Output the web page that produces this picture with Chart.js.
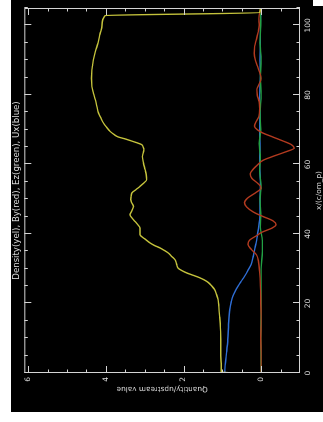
<!DOCTYPE html>
<html>
<head>
<meta charset="utf-8">
<script src="https://cdn.jsdelivr.net/npm/chart.js@4.4.1/dist/chart.umd.min.js"></script>
<style>
  html, body { margin: 0; padding: 0; background: #fff; }
  body { width: 323px; height: 422px; overflow: hidden; position: relative; }
  /* plot is laid out upright, then turned a quarter turn counter-clockwise */
  #frame { position: absolute; left: 0; top: 0; width: 422px; height: 323px;
           transform-origin: 0 0; transform: translateY(422px) rotate(-90deg); background: #fff; }
  #panel { position: absolute; left: 10px; top: 11px; width: 412px; height: 312px; background: #000; }
  #nick { position: absolute; left: 416px; top: 313px; width: 6px; height: 10px; background: #fff; }
</style>
</head>
<body>
<div id="frame">
  <div id="panel"><canvas id="shockChart" width="412" height="312"></canvas></div>
  <div id="nick"></div>
</div>
<script>
// Tick labels
const xTickLabels = [0, 20, 40, 60, 80, 100];
const yTickLabels = [0, 2, 4, 6];

// Density (yellow)
const densX = [0, 0.3, 2, 5, 9.6, 13, 16.3, 19, 21.1, 22.6, 24, 25, 26.1, 26.8, 27.4, 28.1, 28.8, 29.5, 30.2, 31.4,
  32.6, 33.5, 34.5, 35.3, 36, 36.7, 37.4, 38.6, 39.8, 40.8, 41.7, 42.7, 43.6, 44.5, 45.5, 46.7, 47.9, 48.9, 49.9,
  50.8, 51.8, 52.8, 53.7, 54.7, 55.6, 57, 58.5, 60.4, 62.3, 63.3, 64.2, 65, 65.7, 66.3, 66.9, 67.4, 67.9, 68.7,
  69.5, 70.7, 71.9, 73.4, 74.8, 76.7, 78.6, 80.5, 82.4, 84.8, 87.2, 88.7, 90.1, 92.5, 95, 97.5, 100, 102.8, 103.7, 105];
const densVal = [0.73, 1.03, 1.03, 1.04, 1.04, 1.05, 1.07, 1.09, 1.11, 1.15, 1.2, 1.27, 1.37, 1.47, 1.58, 1.75, 1.92, 2.05, 2.14, 2.18,
  2.22, 2.3, 2.39, 2.5, 2.61, 2.75, 2.86, 3.0, 3.12, 3.12, 3.12, 3.18, 3.25, 3.32, 3.38, 3.33, 3.29, 3.33, 3.36,
  3.35, 3.33, 3.22, 3.12, 3.02, 2.95, 2.96, 2.99, 3.03, 3.06, 3.04, 3.02, 3.04, 3.08, 3.22, 3.38, 3.52, 3.68, 3.8,
  3.89, 3.98, 4.06, 4.13, 4.19, 4.23, 4.27, 4.32, 4.36, 4.37, 4.36, 4.34, 4.32, 4.27, 4.2, 4.15, 4.1, 4.02, 0.04, 0.02];

// By (red)
const byX = [0, 5, 10, 15, 20, 25, 29, 32, 34, 35.5, 37, 38.2, 39.5, 40.5, 41.7, 42.7, 43.8, 45, 46.3, 47.8, 49, 50.3,
  51.8, 53.2, 54.5, 56, 57.3, 58.7, 60, 61.2, 62.3, 63.5, 64.7, 65.7, 66.8, 67.9, 69, 70, 71, 72.3, 73.8, 76, 78, 80,
  81.5, 83, 84.8, 86.5, 88.2, 90, 92, 94, 96, 98, 100, 102, 104, 105];
const byVal = [0, 0, 0.01, 0, 0.01, 0.02, 0.04, 0.07, 0.12, 0.25, 0.34, 0.3, 0.12, -0.02, -0.28, -0.38, -0.3, -0.05, 0.2, 0.38, 0.43, 0.35,
  0.15, 0.0, 0.08, 0.24, 0.28, 0.2, 0.08, -0.05, -0.3, -0.6, -0.85, -0.78, -0.55, -0.3, -0.05, 0.1, 0.17, 0.13, 0.06, 0.04, 0.05, 0.1,
  0.11, 0.06, 0.0, 0.04, 0.09, 0.15, 0.18, 0.17, 0.12, 0.08, 0.05, 0.06, 0.03, 0];

// Ez (green)
const ezX = [0, 10, 20, 30, 35, 38, 42, 46, 50, 54, 58, 62, 66, 70, 75, 80, 85, 90, 95, 100, 105];
const ezVal = [0, 0.01, 0, 0, -0.03, -0.03, 0.02, 0.01, 0.03, 0.0, 0.04, 0.02, 0.05, 0.01, 0.03, 0.0, 0.02, 0.0, 0.03, 0.01, 0.02];

// Ux (blue)
const uxX = [0, 3, 6, 9.6, 14, 18.2, 20.5, 22.1, 23.5, 24.9, 26.3, 27.8, 29.5, 31.2, 33.3, 35.5, 37.4, 39.3, 41.5, 44.1,
  47, 50, 55, 60, 65, 70, 75, 80, 85, 90, 95, 100, 105];
const uxVal = [0.94, 0.92, 0.89, 0.86, 0.84, 0.81, 0.77, 0.73, 0.67, 0.6, 0.52, 0.43, 0.34, 0.26, 0.21, 0.17, 0.13, 0.1, 0.07, 0.04,
  0.03, 0.03, 0.02, 0.04, 0.03, 0.04, 0.03, 0.04, 0.02, 0.03, 0.02, 0.02, 0.0];

const textColor = '#dcdcdc';
const axisColor = '#d4d4d4';
const tickFont = { family: 'DejaVu Sans', size: 7.5 };
const axisTitleFont = { family: 'DejaVu Sans', size: 7.3 };

function pairUp(xs, ys) {
    return xs.map((x, i) => ({ x: x, y: ys[i] }));
}

function series(label, xs, ys, color) {
    return {
        label: label,
        data: pairUp(xs, ys),
        showLine: true,
        borderColor: color,
        borderWidth: 1.4,
        pointRadius: 0,
        cubicInterpolationMode: 'monotone'
    };
}

// box round the plot with inward ticks on every side, like the original
const frameTicks = {
    id: 'frameTicks',
    afterDatasetsDraw(chart) {
        const { ctx, chartArea: a, scales: { x, y } } = chart;
        ctx.save();
        ctx.strokeStyle = axisColor;
        ctx.lineWidth = 1;
        ctx.strokeRect(a.left + 0.5, a.top + 0.5, a.right - a.left - 1, a.bottom - a.top - 1);
        ctx.beginPath();
        for (let v = 0; v <= 105; v += 5) {
            const px = Math.round(x.getPixelForValue(v)) + 0.5;
            const len = xTickLabels.includes(v) ? 7 : 3.5;
            ctx.moveTo(px, a.bottom); ctx.lineTo(px, a.bottom - len);
            ctx.moveTo(px, a.top); ctx.lineTo(px, a.top + len);
        }
        for (let v = -0.5; v <= 6; v += 0.5) {
            const py = Math.round(y.getPixelForValue(v)) + 0.5;
            const len = yTickLabels.includes(v) ? 7 : 3.5;
            ctx.moveTo(a.left, py); ctx.lineTo(a.left + len, py);
            ctx.moveTo(a.right, py); ctx.lineTo(a.right - len, py);
        }
        ctx.stroke();
        ctx.restore();
    }
};

new Chart(document.getElementById('shockChart'), {
    type: 'scatter',
    data: {
        datasets: [
            series('Density', densX, densVal, '#c4c23c'),
            series('By', byX, byVal, '#b23a1f'),
            series('Ez', ezX, ezVal, '#22a044'),
            series('Ux', uxX, uxVal, '#2f6ed6')
        ]
    },
    options: {
        responsive: false,
        animation: false,
        layout: { padding: { top: 0, right: 8, bottom: 0, left: 0 } },
        plugins: {
            legend: { display: false },
            tooltip: { enabled: false },
            title: {
                display: true,
                fullSize: false,
                text: 'Density(yel), By(red), Ez(green), Ux(blue)',
                color: textColor,
                font: { family: 'DejaVu Sans', size: 8.6, weight: 'normal' },
                padding: { top: 1, bottom: 2 }
            }
        },
        scales: {
            x: {
                type: 'linear', min: 0, max: 105,
                grid: { display: false, drawTicks: false },
                border: { display: false },
                afterBuildTicks: s => { s.ticks = xTickLabels.map(v => ({ value: v })); },
                afterFit: s => { s.height = 23; },
                ticks: { color: textColor, font: tickFont, padding: 4, maxRotation: 0, autoSkip: false },
                title: { display: true, text: 'x/(c/om_p)', color: textColor, font: axisTitleFont, padding: { top: 0, bottom: 0 } }
            },
            y: {
                type: 'linear', min: -1, max: 6.1,
                grid: { display: false, drawTicks: false },
                border: { display: false },
                afterBuildTicks: s => { s.ticks = yTickLabels.map(v => ({ value: v })); },
                afterFit: s => { s.width = 39; },
                ticks: { color: textColor, font: tickFont, padding: 4 },
                title: { display: true, text: 'Quantity/upstream value', color: textColor, font: axisTitleFont, padding: { top: 19, bottom: 0 } }
            }
        }
    },
    plugins: [frameTicks]
});
</script>
</body>
</html>
